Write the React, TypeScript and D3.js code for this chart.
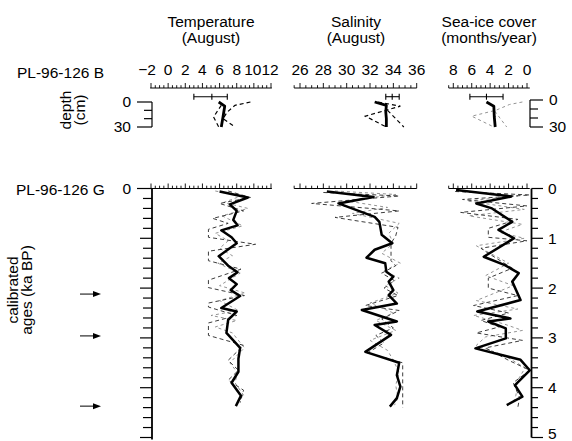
import React from "react";
import * as d3 from "d3";

type P = [number, number];

const SVG_W = 572;
const SVG_H = 441;

// ---------- text ----------
const titlesTop = ["Temperature", "Salinity", "Sea-ice cover"];
const titlesBottom = ["(August)", "(August)", "(months/year)"];
const coreB = "PL-96-126 B";
const coreG = "PL-96-126 G";

// ---------- tick values ----------
const tempTicks = [-2, 0, 2, 4, 6, 8, 10, 12];
const salTicks = [26, 28, 30, 32, 34, 36];
const iceTicks = [8, 6, 4, 2, 0];
const ageTicks = [0, 1, 2, 3, 4, 5];
const depthTicks = [0, 10, 20, 30];
const depthLabels = [0, 30];
const arrowAges = [2.12, 2.96, 4.37];

// ---------- core B (depth cm, value) ----------
const bTempSolid: P[] = [[0, 5.9], [5, 6.6], [18, 6.4], [30, 6.2]];
const bTempDashA: P[] = [[0, 9.6], [4, 7.8], [12, 6.9], [20, 6.4], [30, 7.8]];
const bTempDashB: P[] = [[4, 6.2], [18, 5.3], [30, 5.9]];
const bSalSolid: P[] = [[0, 32.4], [4, 33.4], [12, 33.35], [20, 33.4], [30, 33.4]];
const bSalDashA: P[] = [[0, 32.7], [5, 34.6], [17, 31.6], [30, 33.4]];
const bSalDashB: P[] = [[10, 33.5], [30, 34.9]];
const bIceSolid: P[] = [[0, 4.4], [5, 3.6], [18, 3.55], [30, 3.45]];
const bIceDashA: P[] = [[0, 0.5], [3, 1.9], [10, 3.4], [17, 6.0], [30, 3.6]];
const bIceDashB: P[] = [[11, 3.5], [30, 2.2]];
// error bars [low, mean, high]
const errTemp = [3.0, 5.1, 6.9];
const errSal = [33.35, 33.9, 34.5];
const errIce = [6.2, 4.4, 2.6];

// ---------- core G (age ka BP, value) ----------
const tempSolid: P[] = [
  [0.06, 6.0], [0.18, 9.3], [0.32, 7.2], [0.45, 8.0], [0.63, 7.6], [0.74, 8.1], [0.84, 6.2],
  [0.98, 7.4], [1.1, 8.0], [1.36, 5.9], [1.55, 7.0], [1.68, 8.1], [1.8, 7.1], [1.92, 8.0],
  [2.04, 7.3], [2.16, 8.4], [2.4, 6.2], [2.47, 8.0], [2.64, 7.0], [2.9, 6.8], [3.2, 8.4],
  [3.42, 8.2], [3.68, 8.2], [3.9, 7.4], [4.16, 8.5], [4.37, 7.9]
];
const tempDashA: P[] = [
  [0.05, 7.0], [0.18, 9.6], [0.3, 6.0], [0.45, 8.8], [0.6, 5.2], [0.7, 7.0], [0.82, 4.7],
  [0.98, 4.7], [1.12, 10.2], [1.26, 4.7], [1.45, 4.7], [1.62, 8.5], [1.84, 4.7], [1.99, 4.7],
  [2.15, 8.9], [2.3, 4.7], [2.38, 4.7], [2.55, 8.0], [2.7, 4.7], [2.95, 4.7], [3.15, 8.8],
  [3.45, 7.0], [3.65, 8.2], [3.85, 7.0], [4.05, 8.8], [4.3, 8.4]
];
const tempDashB: P[] = [
  [0.05, 5.5], [0.15, 8.5], [0.28, 6.5], [0.4, 9.3], [0.55, 6.3], [0.75, 8.7], [0.9, 5.5],
  [1.05, 7.0], [1.2, 6.0], [1.35, 7.5], [1.5, 5.8], [1.7, 8.4], [1.95, 6.0], [2.1, 9.0],
  [2.25, 6.0], [2.45, 8.2], [2.55, 5.0], [2.65, 8.0], [2.78, 5.5], [2.9, 7.5], [3.2, 8.9],
  [3.5, 7.2], [3.7, 8.1], [3.9, 7.8], [4.15, 8.8], [4.3, 8.1]
];
const salSolid: P[] = [
  [0.06, 28.3], [0.17, 32.3], [0.3, 29.3], [0.57, 32.4], [0.67, 32.8], [0.93, 33.0],
  [1.1, 33.9], [1.23, 32.4], [1.39, 31.7], [1.5, 33.3], [1.67, 33.4], [1.77, 34.0],
  [1.87, 33.6], [2.04, 34.0], [2.14, 33.6], [2.31, 34.3], [2.44, 31.3], [2.67, 34.3],
  [2.74, 32.4], [2.94, 33.8], [3.28, 31.6], [3.5, 34.5], [3.75, 34.3], [3.98, 34.6],
  [4.21, 34.3], [4.38, 33.7]
];
const salDashA: P[] = [
  [0.08, 28.0], [0.15, 34.5], [0.3, 27.0], [0.45, 34.5], [0.58, 29.0], [0.78, 34.4],
  [0.95, 34.2], [1.1, 33.8], [1.25, 33.8], [1.45, 33.8], [1.55, 34.2], [1.7, 33.0],
  [1.85, 34.1], [2.0, 33.2], [2.15, 34.4], [2.35, 31.6], [2.45, 34.5], [2.62, 33.0],
  [2.8, 34.0], [2.95, 32.5], [3.1, 33.2], [3.3, 31.8], [3.5, 34.8], [3.7, 34.8],
  [4.0, 34.8], [4.4, 34.8]
];
const salDashB: P[] = [
  [0.05, 29.0], [0.12, 34.2], [0.25, 30.0], [0.38, 33.5], [0.5, 30.5], [0.7, 34.5],
  [0.9, 33.6], [1.1, 34.0], [1.3, 33.0], [1.5, 34.6], [1.65, 33.2], [1.8, 34.5],
  [1.95, 33.3], [2.1, 34.4], [2.3, 32.0], [2.5, 34.0], [2.65, 32.5], [2.85, 34.2],
  [3.05, 32.0], [3.25, 33.5], [3.45, 34.0], [3.7, 34.5], [3.95, 34.2], [4.2, 34.4], [4.35, 34.1]
];
const iceSolid: P[] = [
  [0.03, 7.7], [0.16, 1.7], [0.3, 5.5], [0.4, 3.8], [0.67, 1.6], [0.83, 3.1], [1.0, 1.4],
  [1.37, 4.7], [1.54, 2.4], [1.7, 0.9], [1.87, 1.6], [2.24, 0.7], [2.47, 5.4], [2.61, 1.8],
  [2.67, 4.2], [2.81, 2.3], [3.01, 2.3], [3.21, 5.6], [3.44, 0.7], [3.65, -0.3], [3.95, 1.3],
  [4.18, 0.5], [4.35, 2.2]
];
const iceDashA: P[] = [
  [0.06, 7.8], [0.13, -0.3], [0.22, 7.0], [0.35, 0.0], [0.48, 7.2], [0.62, 1.0], [0.8, 4.2],
  [0.98, 4.2], [1.05, 0.0], [1.2, 5.0], [1.3, 4.2], [1.6, 1.6], [1.8, 4.2], [2.0, 4.2],
  [2.15, 1.0], [2.35, 5.8], [2.5, 2.0], [2.65, 5.0], [2.78, 3.0], [2.9, 5.5], [3.05, 0.5],
  [3.2, 4.5], [3.45, 2.0], [3.65, -0.3], [3.9, 1.5], [4.2, 0.8], [4.4, 1.0]
];
const iceDashB: P[] = [
  [0.05, 7.0], [0.15, 1.0], [0.25, 6.5], [0.42, 0.3], [0.55, 6.3], [0.72, 0.5], [0.88, 3.0],
  [1.0, 0.3], [1.15, 5.5], [1.35, 3.5], [1.5, 2.0], [1.75, 4.5], [1.95, 1.5], [2.1, 3.5],
  [2.25, 5.5], [2.42, 1.0], [2.55, 5.8], [2.72, 2.5], [2.85, 0.5], [2.98, 4.5], [3.15, 5.5],
  [3.35, 2.5], [3.6, 0.2], [3.85, 1.0], [4.15, 1.2], [4.3, 1.5]
];

// ---------- scales ----------
const xT = d3.scaleLinear().domain([-2, 12]).range([151, 271]);
const xS = d3.scaleLinear().domain([26, 36]).range([300, 416.7]);
const xI = d3.scaleLinear().domain([8, 0]).range([453.3, 527]);
const yA = d3.scaleLinear().domain([0, 5]).range([188.5, 437.5]);
const yD = d3.scaleLinear().domain([0, 30]).range([102, 127]);

const FONT = "'Liberation Sans', Arial, Helvetica, sans-serif";
const FS = 15.5;

const SOLID = { stroke: "#000", strokeWidth: 2.5, fill: "none", strokeLinejoin: "round" as const };
const DASHA = { stroke: "#333", strokeWidth: 0.95, fill: "none", strokeDasharray: "4,3" };
const DASHB = { stroke: "#888", strokeWidth: 0.9, fill: "none", strokeDasharray: "3,3" };
const DASHTOP = { stroke: "#000", strokeWidth: 1.2, fill: "none", strokeDasharray: "4,3" };

function pathFor(data: P[], x: any, y: any): string {
  const gen = d3.line<P>().x((d) => x(d[1])).y((d) => y(d[0]));
  return gen(data) || "";
}

function TopAxis(props: any) {
  const { x, from, to, y, majors, minorFrom, minorTo } = props;
  const minors = d3.range(minorFrom, minorTo + 0.001, 0.5);
  return (
    <g>
      <line x1={x(from)} x2={x(to)} y1={y} y2={y} stroke="#000" strokeWidth={1.2} />
      {minors.map((v: number) => {
        const major = majors.includes(v);
        return (
          <line key={v} x1={x(v)} x2={x(v)} y1={y} y2={y - (major ? 5 : 2.8)} stroke="#000" strokeWidth={0.9} />
        );
      })}
    </g>
  );
}

function ErrBar(props: any) {
  const { x, vals, y } = props;
  const a = vals[0];
  const m = vals[1];
  const b = vals[2];
  return (
    <g stroke="#000" strokeWidth={1.1}>
      <line x1={x(a)} x2={x(b)} y1={y} y2={y} />
      <line x1={x(a)} x2={x(a)} y1={y - 3} y2={y + 3} />
      <line x1={x(b)} x2={x(b)} y1={y - 3} y2={y + 3} />
      <line x1={x(m)} x2={x(m)} y1={y - 3} y2={y + 3} />
    </g>
  );
}

export default function App() {
  const titleX = [211, 356, 489];
  const topY = 88;
  const botY = yA(0);
  const ageMinor = d3.range(0, 5.001, 0.2);
  const isInt = (v: number) => Math.abs(v - Math.round(v)) < 1e-6;
  return (
    <svg width={SVG_W} height={SVG_H} style={{ position: "absolute", left: 0, top: 0, background: "#fff" }}
      fontFamily={FONT} fontSize={FS}>
      <rect x={0} y={0} width={SVG_W} height={SVG_H} fill="#fff" />
      {titleX.map((cx, i) => (
        <g key={"title" + i}>
          <text x={cx} y={27} textAnchor="middle">{titlesTop[i]}</text>
          <text x={cx} y={43} textAnchor="middle">{titlesBottom[i]}</text>
        </g>
      ))}
      <text x={17} y={78}>{coreB}</text>
      <text x={16} y={195}>{coreG}</text>

      {tempTicks.map((v) => (
        <text key={"t" + v} x={xT(v) - (v < 0 ? 4 : v >= 10 ? 1 : 0)} y={75} textAnchor="middle">
          {v < 0 ? "\u2212" + Math.abs(v) : String(v)}
        </text>
      ))}
      {salTicks.map((v) => (
        <text key={"s" + v} x={xS(v)} y={75} textAnchor="middle">{String(v)}</text>
      ))}
      {iceTicks.map((v) => (
        <text key={"i" + v} x={xI(v)} y={75} textAnchor="middle">{String(v)}</text>
      ))}

      <TopAxis x={xT} from={-2.1} to={12.1} y={topY} majors={tempTicks} minorFrom={-2} minorTo={12} />
      <TopAxis x={xS} from={25.5} to={36} y={topY} majors={salTicks} minorFrom={25.5} minorTo={36} />
      <TopAxis x={xI} from={8.5} to={-0.3} y={topY} majors={iceTicks} minorFrom={0} minorTo={8.5} />

      <g stroke="#000" strokeWidth={1.2}>
        <line x1={152} x2={152} y1={yD(0)} y2={yD(30)} />
        {depthTicks.map((d) => (
          <line key={"dl" + d} x1={d % 30 === 0 ? 137 : 144} x2={152} y1={yD(d)} y2={yD(d)} />
        ))}
        <line x1={530} x2={530} y1={yD(0) - 2} y2={yD(30)} />
        {depthTicks.map((d) => (
          <line key={"dr" + d} x1={530} x2={d % 30 === 0 ? 543 : 538} y1={yD(d) - (30 - d) / 15} y2={yD(d) - (30 - d) / 15} />
        ))}
      </g>
      {depthLabels.map((d) => (
        <text key={"dlab" + d} x={131} y={yD(d)} dy="0.35em" textAnchor="end">{String(d)}</text>
      ))}
      {depthLabels.map((d) => (
        <text key={"drab" + d} x={549} y={yD(d) - (30 - d) / 15} dy="0.35em">{String(d)}</text>
      ))}
      <text transform="translate(71,110) rotate(-90)" textAnchor="middle">depth</text>
      <text transform="translate(85,110) rotate(-90)" textAnchor="middle">(cm)</text>

      <ErrBar x={xT} vals={errTemp} y={96.7} />
      <ErrBar x={xS} vals={errSal} y={96.7} />
      <ErrBar x={xI} vals={errIce} y={96.7} />

      <path d={pathFor(bTempDashA, xT, yD)} {...DASHTOP} />
      <path d={pathFor(bTempDashB, xT, yD)} {...DASHTOP} />
      <path d={pathFor(bTempSolid, xT, yD)} {...SOLID} strokeWidth={2.8} />
      <path d={pathFor(bSalDashA, xS, yD)} {...DASHTOP} />
      <path d={pathFor(bSalDashB, xS, yD)} {...DASHTOP} />
      <path d={pathFor(bSalSolid, xS, yD)} {...SOLID} strokeWidth={2.8} />
      <path d={pathFor(bIceDashA, xI, yD)} {...DASHB} />
      <path d={pathFor(bIceDashB, xI, yD)} {...DASHB} />
      <path d={pathFor(bIceSolid, xI, yD)} {...SOLID} strokeWidth={2.8} />

      <TopAxis x={xT} from={-2.1} to={12.1} y={botY} majors={tempTicks} minorFrom={-2} minorTo={12} />
      <TopAxis x={xS} from={25.5} to={36} y={botY} majors={salTicks} minorFrom={25.5} minorTo={36} />
      <TopAxis x={xI} from={8.5} to={-0.3} y={botY} majors={iceTicks} minorFrom={0} minorTo={8.5} />

      <g stroke="#000">
        <line x1={152} x2={152} y1={yA(0)} y2={yA(5) + 2} strokeWidth={1.8} />
        {ageMinor.map((v) => (
          <line key={"la" + v} x1={v === 0 ? 137 : isInt(v) ? 140 : 143} x2={152} y1={yA(v)} y2={yA(v)} strokeWidth={1.2} />
        ))}
        <line x1={531.5} x2={531.5} y1={yA(0)} y2={yA(5)} strokeWidth={1.8} />
        {ageMinor.map((v) => (
          <line key={"ra" + v} x1={531.5} x2={isInt(v) ? 543 : 538} y1={yA(v)} y2={yA(v)} strokeWidth={1.2} />
        ))}
      </g>
      <text x={131} y={yA(0)} dy="0.35em" textAnchor="end">0</text>
      {ageTicks.map((v) => (
        <text key={"al" + v} x={548} y={Math.min(yA(v), 434)} dy="0.35em">{String(v)}</text>
      ))}
      <text transform="translate(18,290) rotate(-90)" textAnchor="middle">calibrated</text>
      <text transform="translate(32,290) rotate(-90)" textAnchor="middle">ages (ka BP)</text>

      {arrowAges.map((a) => (
        <g key={"ar" + a}>
          <line x1={80} x2={95} y1={yA(a)} y2={yA(a)} stroke="#000" strokeWidth={1} />
          <path d={"M93," + (yA(a) - 3) + " L101," + yA(a) + " L93," + (yA(a) + 3) + " Z"} fill="#000" />
        </g>
      ))}

      <path d={pathFor(tempDashB, xT, yA)} {...DASHB} />
      <path d={pathFor(tempDashA, xT, yA)} {...DASHA} />
      <path d={pathFor(tempSolid, xT, yA)} {...SOLID} />
      <path d={pathFor(salDashB, xS, yA)} {...DASHB} />
      <path d={pathFor(salDashA, xS, yA)} {...DASHA} />
      <path d={pathFor(salSolid, xS, yA)} {...SOLID} />
      <path d={pathFor(iceDashB, xI, yA)} {...DASHB} />
      <path d={pathFor(iceDashA, xI, yA)} {...DASHA} />
      <path d={pathFor(iceSolid, xI, yA)} {...SOLID} />
    </svg>
  );
}
